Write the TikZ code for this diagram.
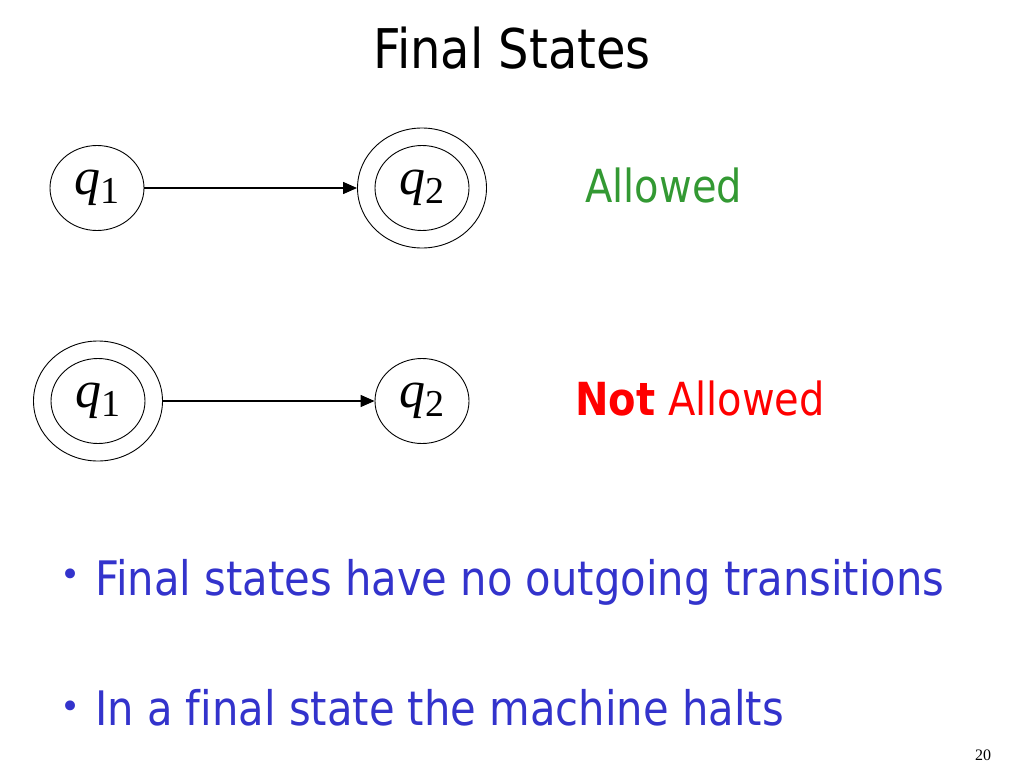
\documentclass[tikz,border=0pt]{standalone}
\usepackage{fontspec}
\setmainfont[Ligatures=NoCommon]{DejaVu Sans}
\newfontfamily\serifq{Liberation Serif}
\usetikzlibrary{shapes.geometric,arrows.meta}
\definecolor{slgreen}{RGB}{51,153,51}
\definecolor{slblue}{RGB}{51,51,204}
\definecolor{slred}{RGB}{255,0,0}
\tikzset{
  stateshape/.style={ellipse, draw=black, line width=0.9pt, inner sep=0pt},
  inner/.style={stateshape, minimum width=94pt, minimum height=85pt},
  outer/.style={stateshape, minimum width=129pt, minimum height=120pt},
  trans/.style={line width=1.3pt, -{Triangle[length=14pt,width=12pt]}},
  txt/.style={inner sep=0pt, anchor=base west},
}
\newcommand{\qlab}[1]{{\serifq\fontsize{52}{52}\selectfont\textit{q}\raisebox{-9pt}{\fontsize{38}{38}\selectfont #1}}}
\newcommand{\tall}[1]{\scalebox{1}[1.14]{#1}}
\begin{document}
\begin{tikzpicture}[x=1pt,y=-1pt]
\useasboundingbox[fill=white] (0,0) rectangle (1024,768);
% title
\node[inner sep=0pt, anchor=base] (title) at (512,68) {\tall{\fontsize{48}{48}\selectfont Final States}};
% row 1
\node[inner] (a1) at (97,188) {\qlab{1}};
\node[inner] (b1) at (422,188) {\qlab{2}};
\node[outer] (b1o) at (422,188) {};
\draw[trans] (a1) -- (b1o);
\node[txt, text=slgreen] (allowed) at (585,202) {\tall{\fontsize{40}{40}\selectfont Allowed}};
% row 2
\node[inner] (a2) at (98,401) {\qlab{1}};
\node[outer] (a2o) at (98,401) {};
\node[inner] (b2) at (422,401) {\qlab{2}};
\draw[trans] (a2o) -- (b2);
\node[txt, text=slred] (notallowed) at (575,415) {\tall{\fontsize{40}{40}\selectfont\textbf{Not} Allowed}};
% bullets
\node[inner sep=0pt, text=slblue] (d1) at (71,578) {\fontsize{34}{34}\selectfont •};
\node[txt, text=slblue] (l1) at (95,595) {\tall{\fontsize{41.7}{42}\selectfont Final states have no outgoing transitions}};
\node[inner sep=0pt, text=slblue] (d2) at (71,710) {\fontsize{34}{34}\selectfont •};
\node[txt, text=slblue] (l2) at (95,725) {\tall{\fontsize{41.7}{42}\selectfont In a final state the machine halts}};
% page number
\node[txt] (pg) at (975,760) {\serifq\fontsize{16}{16}\selectfont 20};
\end{tikzpicture}
\end{document}
